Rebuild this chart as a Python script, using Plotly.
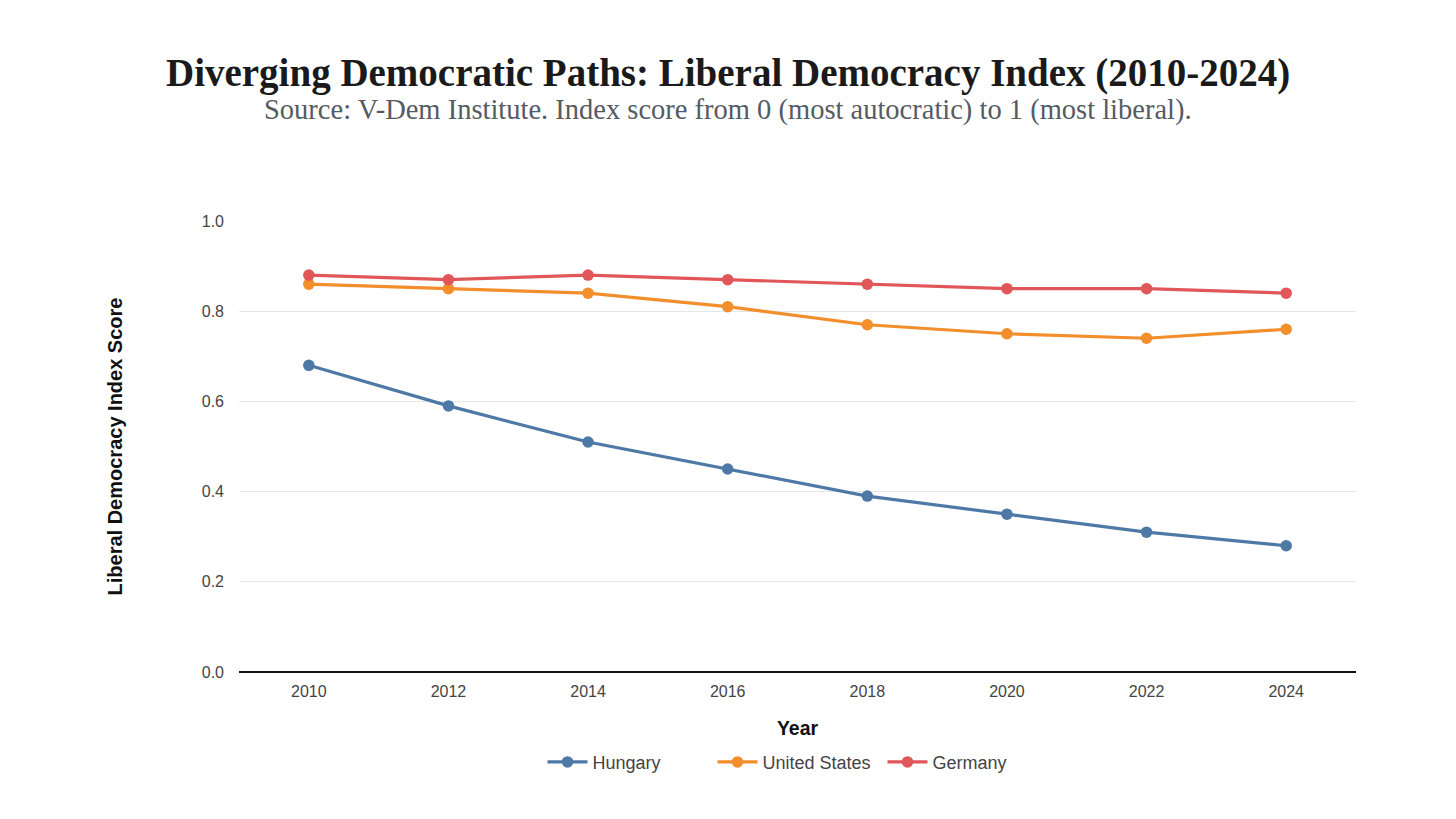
import plotly.graph_objects as go

years = [2010, 2012, 2014, 2016, 2018, 2020, 2022, 2024]
hungary = [0.68, 0.59, 0.51, 0.45, 0.39, 0.35, 0.31, 0.28]
united_states = [0.86, 0.85, 0.84, 0.81, 0.77, 0.75, 0.74, 0.76]
germany = [0.88, 0.87, 0.88, 0.87, 0.86, 0.85, 0.85, 0.84]

series = [
    ("Hungary", hungary, "#4e79a7"),
    ("United States", united_states, "#f28e2b"),
    ("Germany", germany, "#e15759"),
]

fig = go.Figure()
for name, vals, color in series:
    fig.add_trace(go.Scatter(
        x=years, y=vals, name=name, mode="lines+markers",
        line=dict(color=color, width=3.2),
        marker=dict(color=color, size=11.5),
    ))

title_x = (728 - 239) / (1456 - 239 - 100)

fig.add_annotation(
    text="<b>Diverging Democratic Paths: Liberal Democracy Index (2010-2024)</b>",
    xref="paper", yref="paper", x=title_x, y=1, yshift=148, xanchor="center", yanchor="middle",
    showarrow=False, font=dict(family="Liberation Serif, DejaVu Serif, serif", size=39, color="#1a1a1a"),
)
fig.add_annotation(
    text="Source: V-Dem Institute. Index score from 0 (most autocratic) to 1 (most liberal).",
    xref="paper", yref="paper", x=title_x, y=1, yshift=111, xanchor="center", yanchor="middle",
    showarrow=False, font=dict(family="Liberation Serif, DejaVu Serif, serif", size=28.5, color="#555b63"),
)

fig.update_layout(
    width=1456, height=819,
    paper_bgcolor="white", plot_bgcolor="white",
    margin=dict(l=239, r=100, t=221, b=147),
    font=dict(family="Liberation Sans, Arial, sans-serif", color="#444444", size=14),
    showlegend=True,
    legend=dict(orientation="h", x=0.5, xanchor="center", y=-0.2, yanchor="middle",
                font=dict(size=18, color="#444444"), itemwidth=40,
                entrywidth=115, entrywidthmode="pixels"),
    xaxis=dict(
        range=[2009, 2025], tickvals=years, ticktext=[str(y) for y in years],
        showgrid=False, zeroline=False, showline=False, ticks="",
        tickfont=dict(size=16, color="#444444"), ticklabelstandoff=8,
        title=dict(text="<b>Year</b>", font=dict(size=19.5, color="#111111"), standoff=22),
    ),
    yaxis=dict(
        range=[0, 1.0], tickvals=[0, 0.2, 0.4, 0.6, 0.8, 1.0],
        ticktext=["0.0", "0.2", "0.4", "0.6", "0.8", "1.0"],
        showgrid=True, gridcolor="#e6e6e6", gridwidth=1,
        zeroline=True, zerolinecolor="#111111", zerolinewidth=1.5,
        showline=False, ticks="", ticklen=0,
        tickfont=dict(size=16, color="#444444"), ticklabelstandoff=14,
        title=dict(text="<b>Liberal Democracy Index Score</b>", font=dict(size=20, color="#111111"), standoff=73),
    ),
)

fig.write_html("out.html", config={"displayModeBar": False},
               post_script="document.body.style.margin='0';")
